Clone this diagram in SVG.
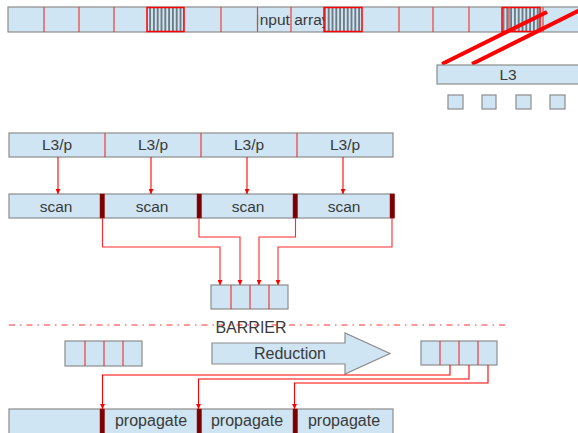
<svg xmlns="http://www.w3.org/2000/svg" width="578" height="433" viewBox="0 0 578 433">
<style>
.box{fill:#cfe5f3;stroke:#8c8c8c;stroke-width:1.2}
.div{stroke:#f03a3a;stroke-width:1.2}
.bar{fill:#7a0000;stroke:#a01010;stroke-width:0.5}
.hatch{fill:url(#vh);stroke:#ff0000;stroke-width:1.5}
.t{font-family:"Liberation Sans",Arial,sans-serif;font-size:15.5px;fill:#3a3a3a;text-anchor:middle}
.c{fill:none;stroke:#ff2a2a;stroke-width:1.1;marker-end:url(#ah)}
.c2{fill:none;stroke:#ff0000;stroke-width:1.1;marker-end:url(#ah)}
</style>
<defs>
<pattern id="vh" patternUnits="userSpaceOnUse" width="3.8" height="10">
<rect width="3.8" height="10" fill="#cfe5f3"/>
<line x1="1.9" y1="0" x2="1.9" y2="10" stroke="#000" stroke-width="0.9"/>
</pattern>
<marker id="ah" markerUnits="userSpaceOnUse" markerWidth="5" markerHeight="5" refX="5" refY="2.5" orient="auto">
<path d="M0,0 L5,2.5 L0,5 z" fill="#ff0000"/>
</marker>
</defs>
<rect width="578" height="433" fill="#fff"/>

<g id="input-array">
<rect class="box" x="8" y="7" width="580" height="25"/>
<text class="t" x="292.5" y="25">Input array</text>
<line class="div" x1="44" y1="7" x2="44" y2="32"/>
<line class="div" x1="79" y1="7" x2="79" y2="32"/>
<line class="div" x1="114" y1="7" x2="114" y2="32"/>
<line class="div" x1="221" y1="7" x2="221" y2="32"/>
<line x1="257.5" y1="7.6" x2="257.5" y2="31.4" stroke="#cfe5f3" stroke-width="2.6"/>
<line class="div" x1="257.5" y1="7" x2="257.5" y2="32"/>
<line class="div" x1="291" y1="7" x2="291" y2="32"/>
<line class="div" x1="399" y1="7" x2="399" y2="32"/>
<line class="div" x1="433" y1="7" x2="433" y2="32"/>
<line class="div" x1="469" y1="7" x2="469" y2="32"/>
<rect class="hatch" x="147" y="7.5" width="37" height="24"/>
<rect class="hatch" x="324" y="7.5" width="38" height="24"/>
<rect class="hatch" x="502" y="7.5" width="38" height="24"/>
<line class="div" x1="509" y1="7" x2="509" y2="32"/>
<line class="div" x1="543" y1="7" x2="543" y2="32"/>
</g>

<g id="slice-lines">
<line x1="442" y1="64" x2="547" y2="12" stroke="#ff0000" stroke-width="4"/>
<line x1="472" y1="64" x2="590" y2="5" stroke="#ff0000" stroke-width="4"/>
</g>

<g id="L3">
<rect class="box" x="437" y="65" width="150" height="19"/>
<text class="t" x="508" y="80">L3</text>
</g>

<g id="L3-items">
<rect class="box" x="448" y="95" width="15" height="14"/>
<rect class="box" x="482" y="95" width="14" height="14"/>
<rect class="box" x="516" y="95" width="15" height="14"/>
<rect class="box" x="550" y="95" width="15" height="14"/>
</g>

<g id="L3p-row">
<rect class="box" x="9" y="133" width="384" height="24"/>
<line class="div" x1="105" y1="133" x2="105" y2="157"/>
<line class="div" x1="201" y1="133" x2="201" y2="157"/>
<line class="div" x1="297" y1="133" x2="297" y2="157"/>
<text class="t" x="57" y="150">L3/p</text>
<text class="t" x="153" y="150">L3/p</text>
<text class="t" x="249" y="150">L3/p</text>
<text class="t" x="345" y="150">L3/p</text>
</g>

<g id="scan-row">
<rect class="box" x="9" y="194" width="385" height="24"/>
<rect class="bar" x="100" y="194" width="4.5" height="24"/>
<rect class="bar" x="197" y="194" width="4.5" height="24"/>
<rect class="bar" x="293" y="194" width="4.5" height="24"/>
<rect class="bar" x="390" y="194" width="4.5" height="24"/>
<text class="t" x="56" y="212">scan</text>
<text class="t" x="152" y="212">scan</text>
<text class="t" x="248" y="212">scan</text>
<text class="t" x="344" y="212">scan</text>
</g>

<g id="sums-array">
<rect class="box" x="211" y="285" width="77" height="24"/>
<line class="div" x1="231" y1="285" x2="231" y2="309"/>
<line class="div" x1="250" y1="285" x2="250" y2="309"/>
<line class="div" x1="269" y1="285" x2="269" y2="309"/>
</g>

<g id="barrier">
<line x1="9" y1="325" x2="510" y2="325" stroke="#ff3030" stroke-width="1.2" stroke-dasharray="6 5 1.5 5"/>
<text class="t" x="251" y="333" style="font-size:16px">BARRIER</text>
</g>

<g id="left-array">
<rect class="box" x="65" y="341" width="77" height="25"/>
<line class="div" x1="85" y1="341" x2="85" y2="366"/>
<line class="div" x1="104" y1="341" x2="104" y2="366"/>
<line class="div" x1="123" y1="341" x2="123" y2="366"/>
</g>

<g id="reduction">
<polygon class="box" points="212,343 345,343 345,333 390,353.5 345,374 345,364 212,364"/>
<text class="t" x="290" y="359" style="font-size:16px">Reduction</text>
</g>

<g id="right-array">
<rect class="box" x="421" y="341" width="76" height="24"/>
<line class="div" x1="440" y1="341" x2="440" y2="365"/>
<line class="div" x1="459" y1="341" x2="459" y2="365"/>
<line class="div" x1="478" y1="341" x2="478" y2="365"/>
</g>

<g id="propagate-row">
<rect class="box" x="9" y="409" width="384" height="30"/>
<rect class="bar" x="100" y="409" width="4.5" height="30"/>
<rect class="bar" x="197" y="409" width="4.5" height="30"/>
<rect class="bar" x="293" y="409" width="4.5" height="30"/>
<text class="t" x="151" y="426" style="font-size:16px">propagate</text>
<text class="t" x="247" y="426" style="font-size:16px">propagate</text>
<text class="t" x="344" y="426" style="font-size:16px">propagate</text>
</g>

<g id="connectors">
<line class="c2" x1="58" y1="157" x2="58" y2="194"/>
<line class="c2" x1="151" y1="157" x2="151" y2="194"/>
<line class="c2" x1="247" y1="157" x2="247" y2="194"/>
<line class="c2" x1="343" y1="157" x2="343" y2="194"/>
<polyline class="c" points="102.5,218 102.5,247 220,247 220,285"/>
<polyline class="c" points="199,218 199,237 240,237 240,285"/>
<polyline class="c" points="295.5,218 295.5,237 259,237 259,285"/>
<polyline class="c" points="392,218 392,247 278,247 278,285"/>
<polyline class="c2" points="450,365 450,375 102.5,375 102.5,409"/>
<polyline class="c2" points="469,365 469,379 198.5,379 198.5,409"/>
<polyline class="c2" points="488,365 488,383 294.5,383 294.5,409"/>
</g>
</svg>
